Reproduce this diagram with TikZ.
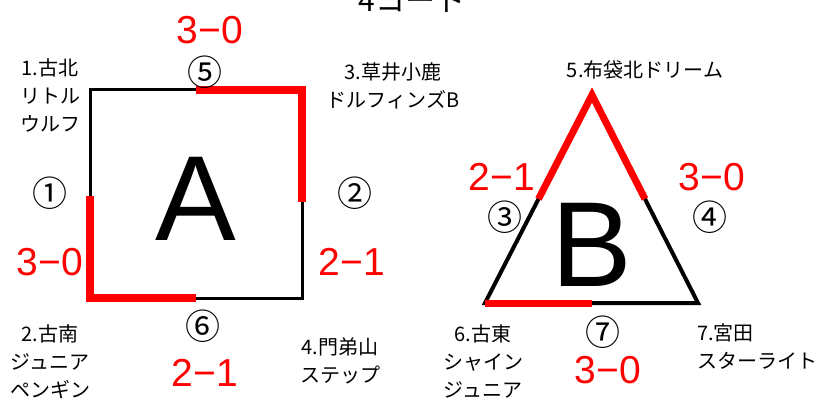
\documentclass[tikz,border=0pt]{standalone}
\usepackage{fontspec}
\setmainfont{Liberation Sans}
\newfontfamily\jp{Noto Sans CJK JP}
\usetikzlibrary{calc}
\definecolor{score}{RGB}{255,0,0}

\begin{document}
\begin{tikzpicture}[x=1pt, y=-1pt,
  team/.style={font=\jp\fontsize{20}{28}\selectfont, align=center, inner sep=0pt},
  match/.style={font=\jp\fontsize{35}{35}\selectfont, inner sep=0pt},
  result/.style={font=\fontsize{39}{39}\selectfont, text=score, inner sep=0pt},
  court/.style={font=\fontsize{121}{121}\selectfont, inner sep=0pt},
  edge/.style={line width=3pt, black},
  win/.style={line width=8pt, score}]
\useasboundingbox (0,0) rectangle (819,406);
\node[font=\jp\fontsize{30}{30}\selectfont, anchor=base] (title) at (412,12) {4コート};
% court A
\coordinate (a1) at (90,90);
\coordinate (a2) at (302,90);
\coordinate (a3) at (302,298);
\coordinate (a4) at (90,298);
\draw[edge] (a1) -- (a2) -- (a3) -- (a4) -- cycle;
\draw[win] ($(a1)!0.5!(a2)$) -- (a2) -- ($(a2)!0.54!(a3)$);
\draw[win] ($(a4)!0.49!(a1)$) -- (a4) -- ($(a4)!0.5!(a3)$);
\node[court] (A) at (196,199) {A};
\node[team] (t1) at (50,95) {1.古北\\リトル\\ウルフ};
\node[team] (t3) at (393,86) {3.草井小鹿\\ドルフィンズB};
\node[team] (t2) at (50,362) {2.古南\\ジュニア\\ペンギン};
\node[team] (t4) at (340,361) {4.門弟山\\ステップ};
\node[match] (m5) at (205,72) {⑤};
\node[match] (m1) at (50,193) {①};
\node[match] (m2) at (355,193) {②};
\node[match] (m6) at (203,326) {⑥};
\node[result] (r5) at (210,30) {3−0};
\node[result] (r1) at (50,262) {3−0};
\node[result] (r2) at (352,262) {2−1};
\node[result] (r6) at (205,373) {2−1};
% court B
\coordinate (b1) at (592,95);
\coordinate (b2) at (698,303);
\coordinate (b3) at (485,303);
\draw[edge, line width=4pt] (b1) -- (b2) -- (b3) -- cycle;
\draw[win, line width=7pt] ($(b1)!0.5!(b3)$) -- (b1) -- ($(b1)!0.5!(b2)$);
\draw[win, line width=7pt] (b3) -- ($(b3)!0.5!(b2)$);
\node[court] (B) at (592,245) {B};
\node[team] (t5) at (645,70) {5.布袋北ドリーム};
\node[team] (t6) at (483,361) {6.古東\\シャイン\\ジュニア};
\node[team, align=left, anchor=west] (t7) at (697,347) {7.宮田\\スターライト};
\node[match] (m3) at (505,217) {③};
\node[match] (m4) at (710,217) {④};
\node[match] (m7) at (603,332) {⑦};
\node[result] (r3) at (502,177) {2−1};
\node[result] (r4) at (712,177) {3−0};
\node[result] (r7) at (608,370) {3−0};
\end{tikzpicture}
\end{document}
